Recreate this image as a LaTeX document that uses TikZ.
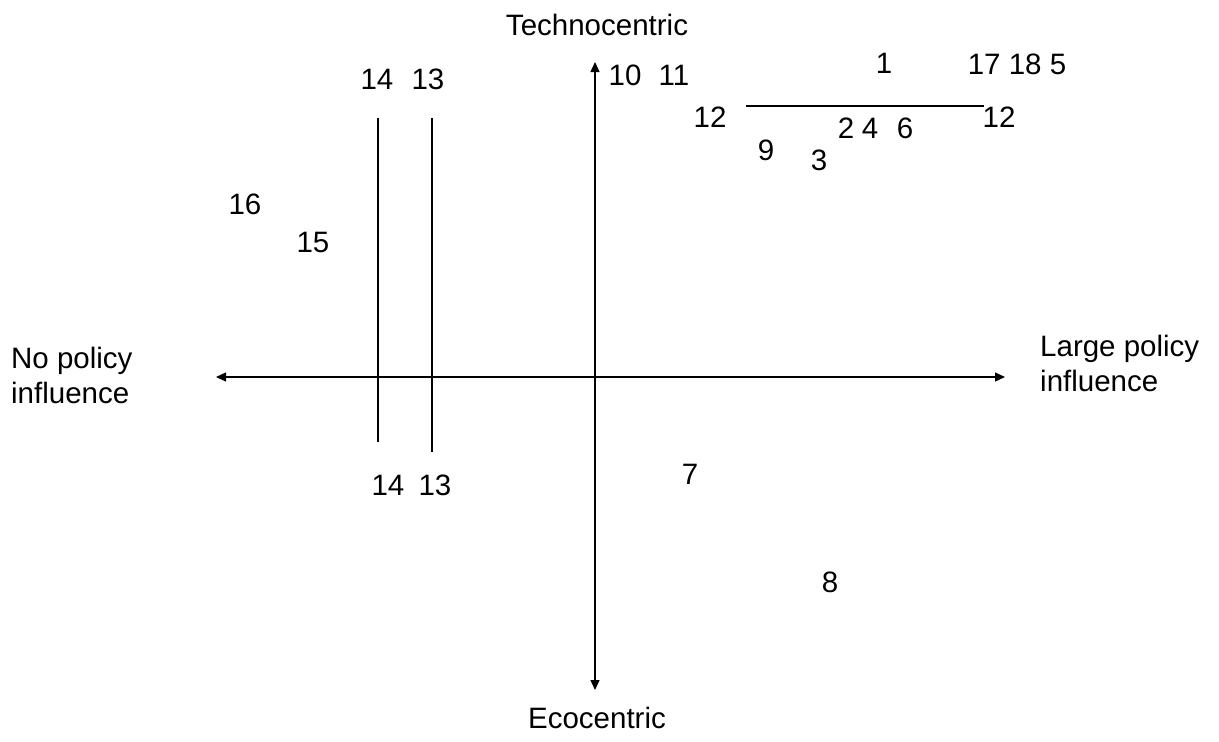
\documentclass[tikz,border=0pt]{standalone}
\usepackage{fontspec}
\setmainfont{Liberation Sans}
\usetikzlibrary{arrows.meta}
\begin{document}
\begin{tikzpicture}[x=1pt,y=-1pt,
  lbl/.style={inner sep=0pt,font=\fontsize{29.5}{35}\selectfont},
  axis/.style={line width=1.2pt,{Triangle[length=10pt,width=9pt]}-{Triangle[length=10pt,width=9pt]}},
  bar/.style={line width=1.5pt}]
\useasboundingbox (0,0) rectangle (1219,742);
% axis end points
\coordinate (L) at (216,377);
\coordinate (R) at (1005,377);
\coordinate (T) at (595,62);
\coordinate (B) at (595,690);
\draw[axis] (L) -- (R);
\draw[axis] (T) -- (B);
% axis labels
\node[lbl] (tech) at (597,25) {Technocentric};
\node[lbl] (eco) at (597,718) {Ecocentric};
\node[lbl,anchor=west,align=left] (nopol) at (11,375) {No policy\\influence};
\node[lbl,anchor=west,align=left] (large) at (1040,363) {Large policy\\influence};
% vertical bars 14 and 13
\coordinate (a14t) at (378,118);
\coordinate (a14b) at (378,442);
\coordinate (a13t) at (432,118);
\coordinate (a13b) at (432,452);
\draw[bar] (a14t) -- (a14b);
\draw[bar] (a13t) -- (a13b);
\node[lbl] (n14t) at (377,79) {14};
\node[lbl] (n13t) at (428,79) {13};
\node[lbl] (n14b) at (388,485) {14};
\node[lbl] (n13b) at (435,485) {13};
% horizontal bar 12
\coordinate (h12l) at (746,106);
\coordinate (h12r) at (984,106);
\draw[bar] (h12l) -- (h12r);
\node[lbl] (n12l) at (710,117) {12};
\node[lbl] (n12r) at (999,117) {12};
% points
\node[lbl] (n10) at (625,75) {10};
\node[lbl] (n11) at (674,75) {11};
\node[lbl] (n1) at (884,63) {1};
\node[lbl] (n17) at (1017,64) {17 18 5};
\node[lbl] (n2) at (846,128) {2};
\node[lbl] (n4) at (870,128) {4};
\node[lbl] (n6) at (905,128) {6};
\node[lbl] (n9) at (766,150) {9};
\node[lbl] (n3) at (819,160) {3};
\node[lbl] (n16) at (245,204) {16};
\node[lbl] (n15) at (313,242) {15};
\node[lbl] (n7) at (690,474) {7};
\node[lbl] (n8) at (830,582) {8};
\end{tikzpicture}
\end{document}
